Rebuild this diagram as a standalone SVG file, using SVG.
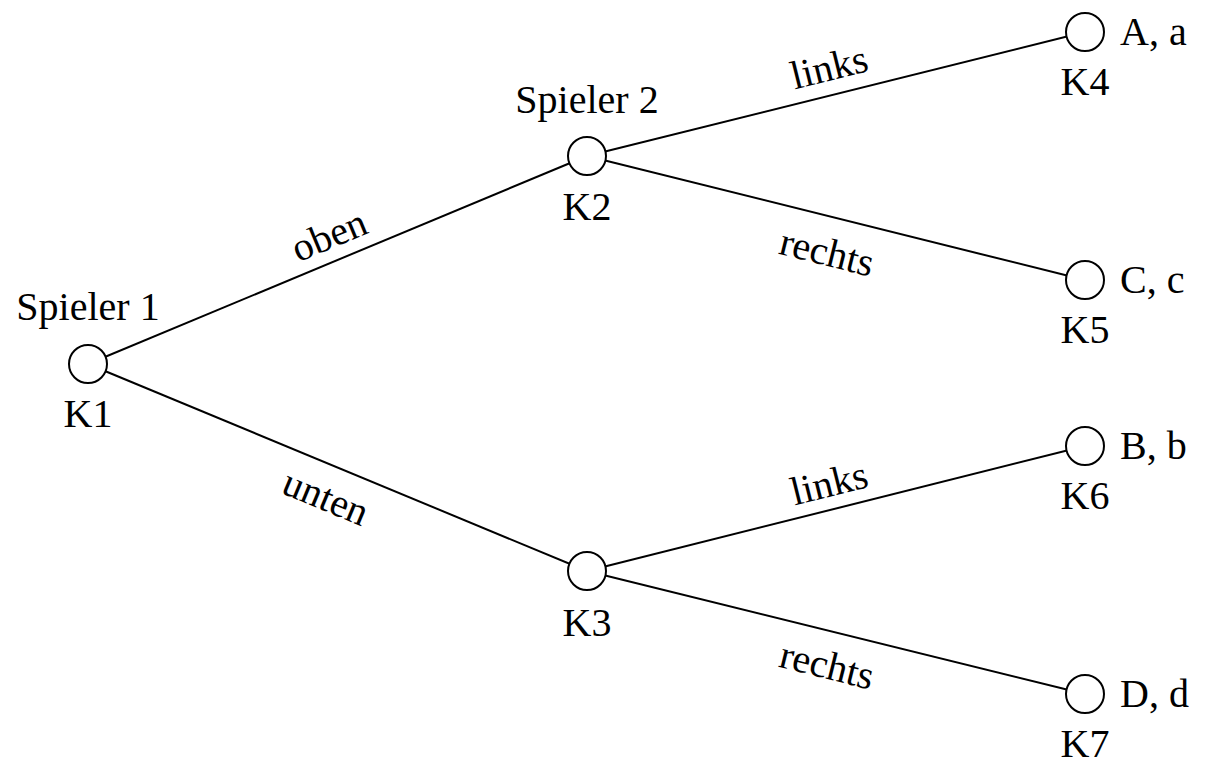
<svg xmlns="http://www.w3.org/2000/svg" width="1214" height="773" viewBox="0 0 1214 773">
<style>
text{font-family:"Liberation Serif","DejaVu Serif",serif;font-size:40px;fill:#000}
.c{text-anchor:middle}
.n{fill:#fff;stroke:#000;stroke-width:2}
.e{stroke:#000;stroke-width:2;fill:none}
</style>
<rect width="1214" height="773" fill="#fff"/>
<g id="connectors">
<line class="e" x1="88" y1="364" x2="587" y2="156"/>
<line class="e" x1="88" y1="364" x2="587" y2="571"/>
<line class="e" x1="587" y1="156" x2="1085" y2="32"/>
<line class="e" x1="587" y1="156" x2="1085" y2="280"/>
<line class="e" x1="587" y1="571" x2="1085" y2="446"/>
<line class="e" x1="587" y1="571" x2="1085" y2="694"/>
<text class="c" transform="translate(329,235) rotate(-22.6)" dominant-baseline="central">oben</text>
<text class="c" transform="translate(326,497) rotate(22.6)" dominant-baseline="central">unten</text>
<text class="c" transform="translate(829,67) rotate(-14)" dominant-baseline="central">links</text>
<text class="c" transform="translate(827,252) rotate(14)" dominant-baseline="central">rechts</text>
<text class="c" transform="translate(829,483) rotate(-14)" dominant-baseline="central">links</text>
<text class="c" transform="translate(827,665) rotate(14)" dominant-baseline="central">rechts</text>
</g>
<g id="K1"><circle class="n" cx="88" cy="364" r="19"/><text class="c" x="88" y="320">Spieler 1</text><text class="c" x="88" y="427">K1</text></g>
<g id="K2"><circle class="n" cx="587" cy="156" r="19"/><text class="c" x="587" y="113">Spieler 2</text><text class="c" x="587" y="220">K2</text></g>
<g id="K3"><circle class="n" cx="587" cy="571" r="19"/><text class="c" x="587" y="636">K3</text></g>
<g id="K4"><circle class="n" cx="1085" cy="32" r="19"/><text class="c" x="1085" y="95">K4</text><text x="1120" y="45">A, a</text></g>
<g id="K5"><circle class="n" cx="1085" cy="280" r="19"/><text class="c" x="1085" y="343">K5</text><text x="1120" y="293">C, c</text></g>
<g id="K6"><circle class="n" cx="1085" cy="446" r="19"/><text class="c" x="1085" y="509">K6</text><text x="1120" y="459">B, b</text></g>
<g id="K7"><circle class="n" cx="1085" cy="694" r="19"/><text class="c" x="1085" y="757">K7</text><text x="1120" y="707">D, d</text></g>
</svg>
